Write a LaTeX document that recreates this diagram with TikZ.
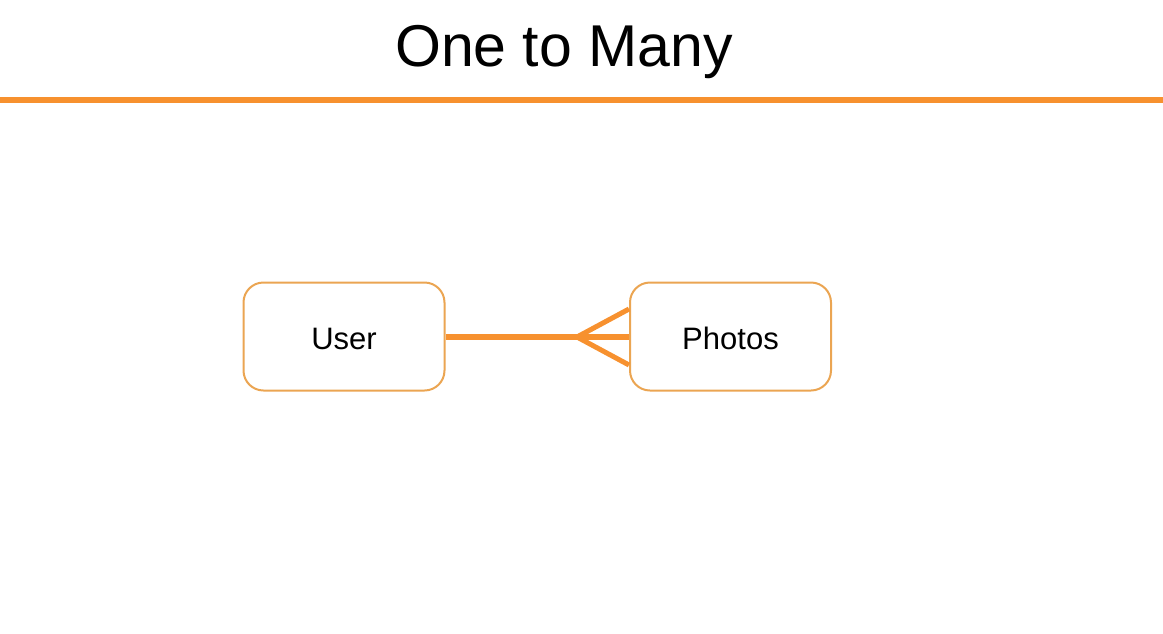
\documentclass[tikz,border=0pt]{standalone}
\usepackage{fontspec}
\setmainfont{Liberation Sans}
\definecolor{barorange}{HTML}{F7912F}
\definecolor{boxorange}{HTML}{EBA552}
\begin{document}
\begin{tikzpicture}[x=1pt,y=-1pt,
  entity/.style={draw=boxorange,line width=2pt,rounded corners=20pt,minimum width=201pt,minimum height=108pt,inner sep=0pt,font=\fontsize{31}{36}\selectfont,fill=white},
  rel/.style={draw=barorange,line width=6pt},
  crow/.style={draw=barorange,line width=5pt}]
\useasboundingbox (0,0) rectangle (1163,633);
\node[font=\fontsize{59}{66}\selectfont] (title) at (564,52) {One to Many};
\coordinate (barL) at (0,100);
\coordinate (barR) at (1163,100);
\draw[rel] (barL) -- (barR);
\node[entity] (user) at (344,336.5) {\raisebox{-12.5pt}[0pt][0pt]{User}};
\node[entity] (photos) at (730.5,336.5) {\raisebox{-12.5pt}[0pt][0pt]{Photos}};
\coordinate (apex) at (577,337);
\draw[rel] (user.east) -- (photos.west);
\draw[crow] (apex) -- (photos.west |- 0,309);
\draw[crow] (apex) -- (photos.west |- 0,365);
\end{tikzpicture}
\end{document}
